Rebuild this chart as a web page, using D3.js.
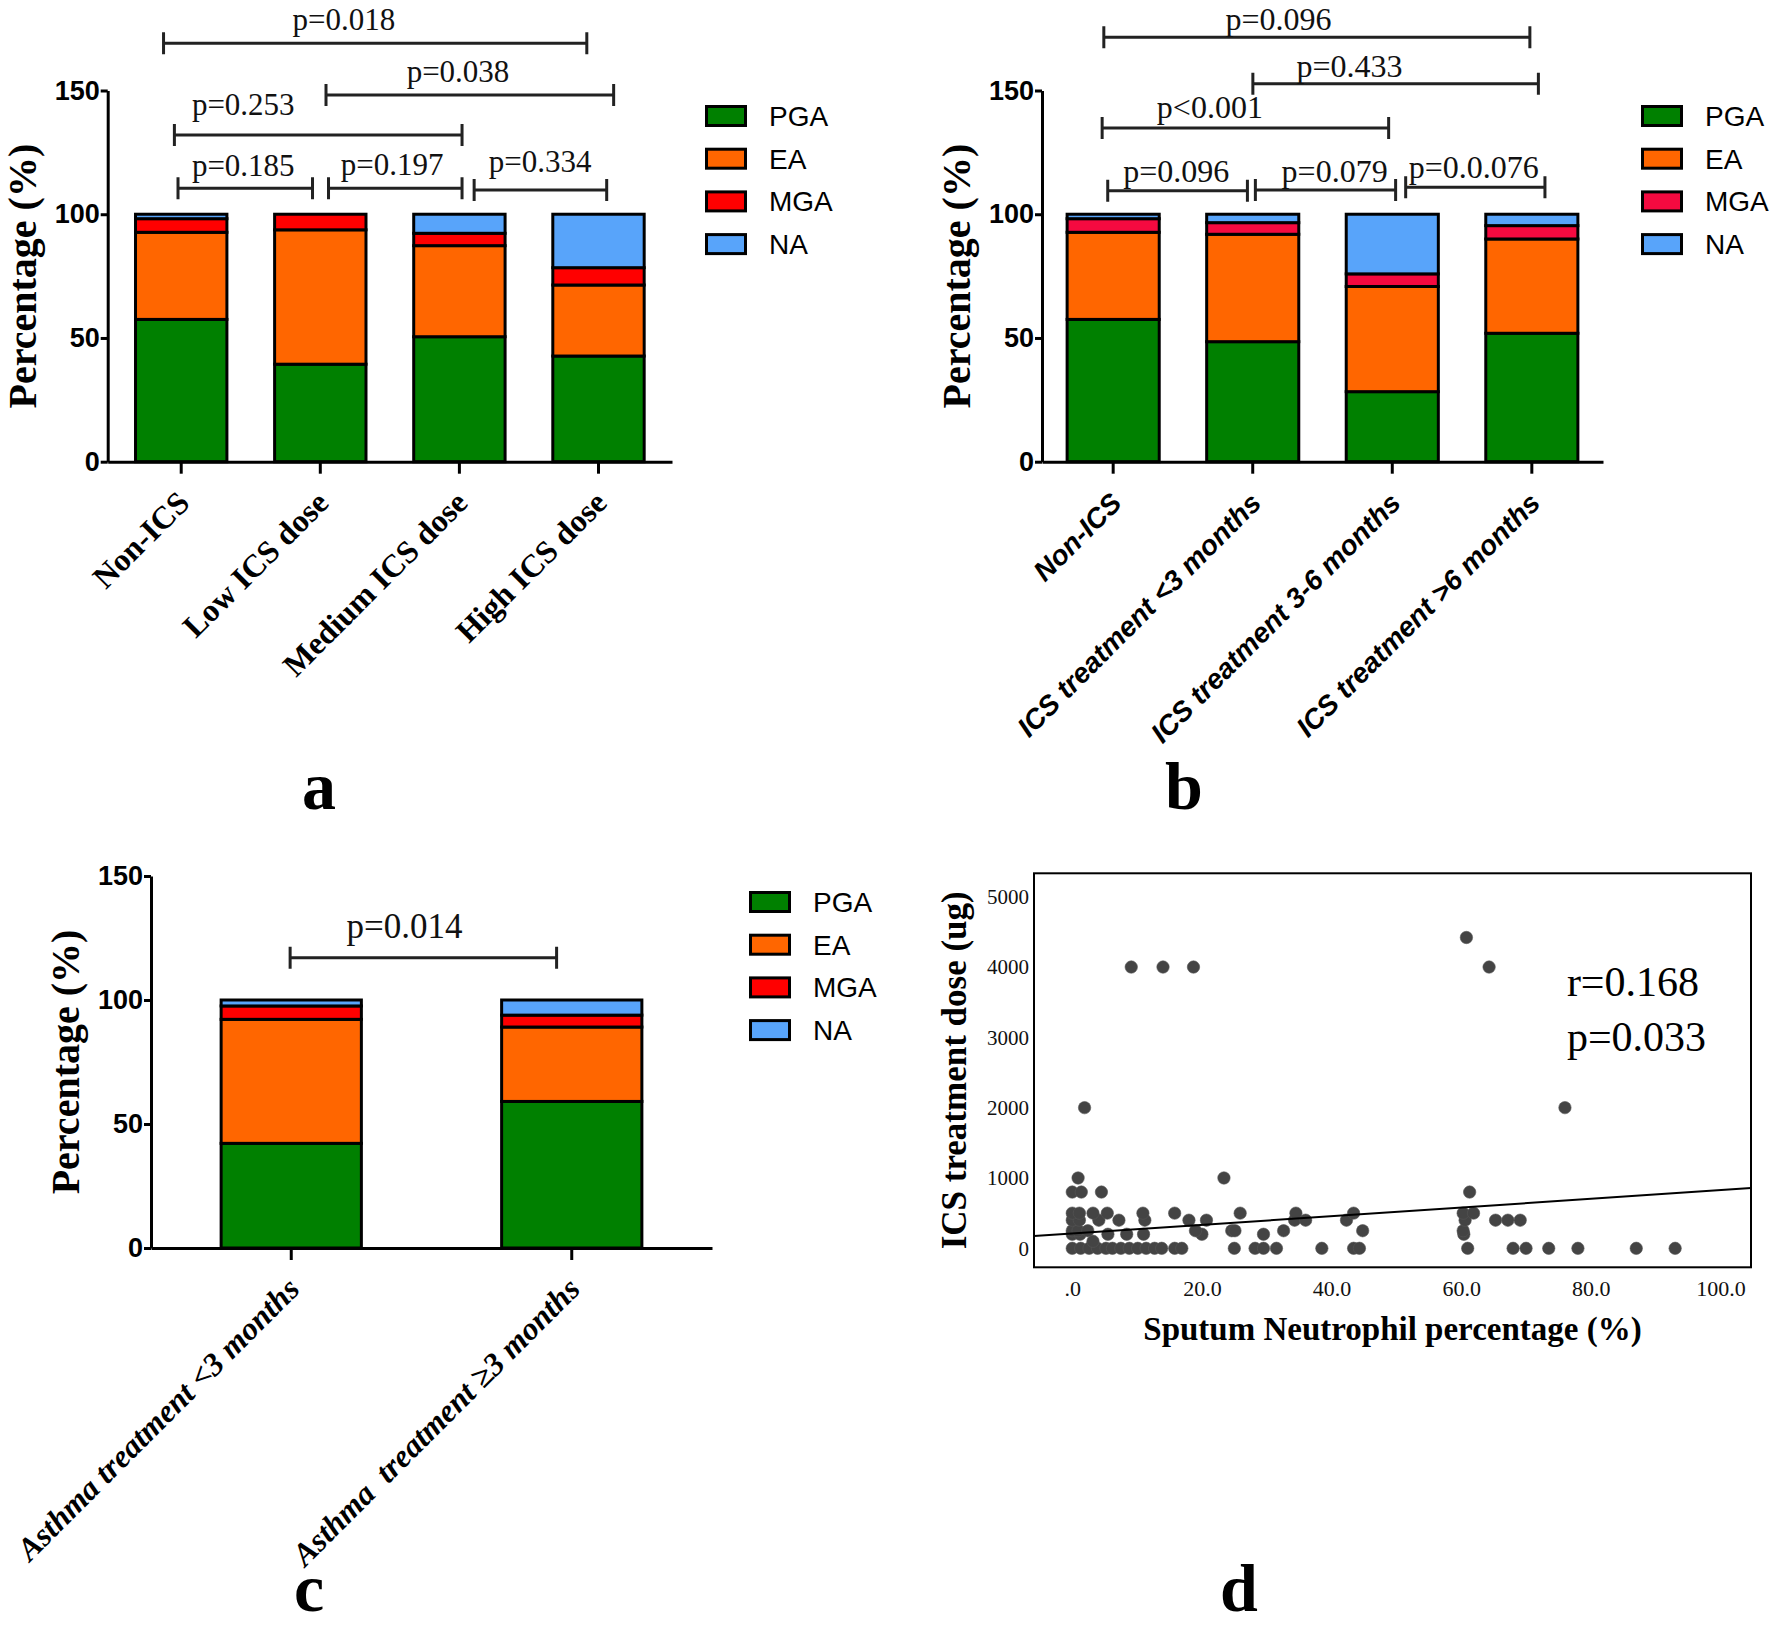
<!DOCTYPE html>
<html>
<head>
<meta charset="utf-8">
<script src="https://cdn.jsdelivr.net/npm/d3@7"></script>
<style>
  body { margin: 0; background: #fff; }
  svg { display: block; }
</style>
</head>
<body>
<svg id="fig" width="1770" height="1626"></svg>
<script>
var stackKeys = ['PGA', 'EA', 'MGA', 'NA'];

// panel a: ICS dose groups (%)
var doseGroups = ['Non-ICS', 'Low ICS dose', 'Medium ICS dose', 'High ICS dose'];
var dosePGA = [57.5, 39.4, 50.5, 42.7];
var doseEA  = [35.2, 54.3, 36.8, 28.7];
var doseMGA = [5.5, 6.3, 5.0, 7.0];
var doseNA  = [1.8, 0, 7.7, 21.6];
var doseTests = [
  { p: 'p=0.018', from: -0.127, to: 2.916, level: 169.1, tx: 1.17, ty: 174.4 },
  { p: 'p=0.038', from: 1.041, to: 3.109, level: 148.2, tx: 1.99, ty: 153.6 },
  { p: 'p=0.253', from: -0.049, to: 2.019, level: 132, tx: 0.446, ty: 140.1 },
  { p: 'p=0.185', from: -0.023, to: 0.944, level: 110.5, tx: 0.446, ty: 115.4 },
  { p: 'p=0.197', from: 1.059, to: 2.019, level: 110.5, tx: 1.516, ty: 116 },
  { p: 'p=0.334', from: 2.106, to: 3.059, level: 109.8, tx: 2.58, ty: 117.2 }
];

// panel b: ICS treatment duration (%)
var timeGroups = ['Non-ICS', 'ICS treatment <3 months', 'ICS treatment 3-6 months', 'ICS treatment >6 months'];
var timePGA = [57.5, 48.5, 28.3, 51.9];
var timeEA  = [35.2, 43.4, 42.5, 38.1];
var timeMGA = [5.5, 4.7, 5.1, 5.4];
var timeNA  = [1.8, 3.4, 24.1, 4.6];
var timeTests = [
  { p: 'p=0.096', from: -0.067, to: 2.986, level: 171.5, tx: 1.184, ty: 174.6 },
  { p: 'p=0.433', from: 1.001, to: 3.047, level: 152.7, tx: 1.694, ty: 155.6 },
  { p: 'p<0.001', from: -0.079, to: 1.974, level: 134.8, tx: 0.693, ty: 138.8 },
  { p: 'p=0.096', from: -0.039, to: 0.962, level: 109.5, tx: 0.452, ty: 113.2 },
  { p: 'p=0.079', from: 1.019, to: 2.024, level: 109.8, tx: 1.587, ty: 113.2 },
  { p: 'p=0.0.076', from: 2.096, to: 3.094, level: 110.9, tx: 2.584, ty: 114.5 }
];

// panel c: asthma treatment duration (%)
var asthmaGroups = ['Asthma treatment <3 months', 'Asthma  treatment \u22653 months'];
var asthmaPGA = [42.2, 59.1];
var asthmaEA  = [50.0, 30.0];
var asthmaMGA = [5.4, 4.8];
var asthmaNA  = [2.4, 6.1];
var asthmaTests = [
  { p: 'p=0.014', from: -0.004, to: 0.946, level: 117, tx: 0.404, ty: 125 }
];

var pctTicks = [0, 50, 100, 150];

// panel d: sputum neutrophil % vs ICS dose (ug)
var neutrophilPct = [
  0, 1.3, 2.6, 3.9, 5.2, 6.2, 7.5, 8.8, 10.1, 11.4, 12.7, 13.8, 15.8, 16.9, 25, 28.2, 29.5, 31.5, 38.5, 43.4, 44.3, 61, 68, 70, 73.5, 78, 87, 93,
  3.2,
  0, 1.2, 5.5, 8.4, 11.0, 20.0, 29.5, 60.4,
  0, 0.9, 2.4, 19.0, 24.6, 25.1, 32.6, 44.8, 60.3,
  0, 1.1, 4.1, 7.2, 11.2, 18.0, 20.7, 34.3, 36.0, 42.3, 60.6, 65.3, 67.2, 69.1,
  0, 1.1, 3.2, 5.4, 10.9, 15.8, 25.9, 34.5, 43.4, 60.3, 61.9,
  0, 1.4, 4.5, 61.3,
  0.9, 23.4,
  1.9, 76.0,
  9.1, 14.0, 18.7, 64.3,
  60.8
];
var icsDose = [
  0, 0, 0, 0, 0, 0, 0, 0, 0, 0, 0, 0, 0, 0, 0, 0, 0, 0, 0, 0, 0, 0, 0, 0, 0, 0, 0, 0,
  100,
  200, 200, 200, 200, 200, 200, 200, 200,
  250, 250, 250, 250, 250, 250, 250, 250, 250,
  400, 400, 400, 400, 400, 400, 400, 400, 400, 400, 400, 400, 400, 400,
  500, 500, 500, 500, 500, 500, 500, 500, 500, 500, 500,
  800, 800, 800, 800,
  1000, 1000,
  2000, 2000,
  4000, 4000, 4000, 4000,
  4420
];
var fitIntercept = 210;
var fitSlope = 6.17;
var doseTicks = [0, 1000, 2000, 3000, 4000, 5000];
var neutroTicks = [0, 20, 40, 60, 80, 100];

var svg = d3.select('#fig');
var serif = 'Liberation Serif, Times New Roman, serif';
var sans = 'Liberation Sans, Arial, sans-serif';

function drawStack(cfg) {
  var g = svg.append('g');
  var rows = cfg.groups.map(function(name, i) {
    return { group: name, PGA: cfg.pga[i], EA: cfg.ea[i], MGA: cfg.mga[i], NA: cfg.na[i] };
  });
  var series = d3.stack().keys(stackKeys)(rows);

  var x = d3.scaleBand()
    .domain(cfg.groups)
    .range([cfg.left, cfg.right])
    .paddingInner(cfg.padIn)
    .paddingOuter(cfg.padOut);
  var y = d3.scaleLinear()
    .domain([0, 150])
    .range([cfg.bottom, cfg.top]);
  var color = d3.scaleOrdinal().domain(stackKeys).range(cfg.colors);
  var pos = function(v) { return x(cfg.groups[0]) + x.bandwidth() / 2 + v * x.step(); };

  g.selectAll('.layer')
    .data(series)
    .enter().append('g')
    .attr('class', 'layer')
    .attr('fill', function(d) { return color(d.key); })
    .selectAll('rect')
    .data(function(d) { return d; })
    .enter().append('rect')
    .attr('x', function(d) { return x(d.data.group); })
    .attr('width', x.bandwidth())
    .attr('y', function(d) { return y(d[1]); })
    .attr('height', function(d) { return y(d[0]) - y(d[1]); })
    .attr('stroke', '#000')
    .attr('stroke-width', 3);

  // x axis with rotated labels
  var xa = g.append('g')
    .attr('transform', 'translate(0,' + y(0) + ')')
    .call(d3.axisBottom(x).tickSizeInner(12).tickSizeOuter(0));
  xa.select('.domain').attr('stroke-width', 3);
  xa.selectAll('.tick line').attr('stroke-width', 3);
  xa.selectAll('.tick text')
    .attr('x', 0).attr('y', 0).attr('dy', 0)
    .attr('transform', 'translate(10,43) rotate(-45)')
    .style('text-anchor', 'end')
    .style('white-space', 'pre')
    .attr('font-family', cfg.labelFont)
    .attr('font-weight', 'bold')
    .attr('font-style', cfg.labelStyle)
    .attr('font-size', cfg.labelSize)
    .attr('fill', '#000');

  var ya = g.append('g')
    .attr('transform', 'translate(' + cfg.left + ',0)')
    .call(d3.axisLeft(y).tickValues(pctTicks).tickSizeInner(7).tickSizeOuter(0).tickPadding(1));
  ya.select('.domain').attr('stroke-width', 3);
  ya.selectAll('.tick line').attr('stroke-width', 3);
  ya.selectAll('.tick text')
    .attr('font-family', sans)
    .attr('font-weight', 'bold')
    .attr('font-size', 27)
    .attr('fill', '#000');

  g.append('text')
    .attr('transform', 'translate(' + (cfg.left - 72) + ',' + ((y(0) + y(150)) / 2) + ') rotate(-90)')
    .attr('text-anchor', 'middle')
    .attr('font-family', serif)
    .attr('font-weight', 'bold')
    .attr('font-size', 40)
    .text('Percentage (%)');

  // significance brackets
  var br = g.selectAll('.bracket')
    .data(cfg.tests)
    .enter().append('g')
    .attr('class', 'bracket');
  br.append('path')
    .attr('d', function(d) {
      var x1 = pos(d.from), x2 = pos(d.to), yy = y(d.level);
      return 'M' + x1 + ',' + (yy - 11) + 'V' + (yy + 11) +
        'M' + x1 + ',' + yy + 'H' + x2 +
        'M' + x2 + ',' + (yy - 11) + 'V' + (yy + 11);
    })
    .attr('fill', 'none')
    .attr('stroke', '#222')
    .attr('stroke-width', 3);
  br.append('text')
    .attr('x', function(d) { return pos(d.tx); })
    .attr('y', function(d) { return y(d.ty); })
    .attr('text-anchor', 'middle')
    .attr('font-family', serif)
    .attr('font-size', cfg.pSize)
    .attr('fill', '#111')
    .text(function(d) { return d.p; });

  // legend
  var lg = g.append('g')
    .attr('transform', 'translate(' + cfg.legendX + ',' + cfg.legendY + ')');
  var item = lg.selectAll('.item')
    .data(stackKeys)
    .enter().append('g')
    .attr('class', 'item')
    .attr('transform', function(d, i) { return 'translate(0,' + (i * 42.7) + ')'; });
  item.append('rect')
    .attr('x', 1.5).attr('y', 1.5)
    .attr('width', 39).attr('height', 19)
    .attr('fill', function(d) { return color(d); })
    .attr('stroke', '#000')
    .attr('stroke-width', 3);
  item.append('text')
    .attr('x', 64)
    .attr('y', 21)
    .attr('font-family', sans)
    .attr('font-size', 28)
    .text(function(d) { return d; });

  g.append('text')
    .attr('x', cfg.letterX)
    .attr('y', cfg.letterY)
    .attr('text-anchor', 'middle')
    .attr('font-family', serif)
    .attr('font-weight', 'bold')
    .attr('font-size', 68)
    .text(cfg.letter);
}

drawStack({
  groups: doseGroups, pga: dosePGA, ea: doseEA, mga: doseMGA, na: doseNA, tests: doseTests,
  colors: ['#008000', '#ff6600', '#ff0000', '#58a4fa'],
  left: 107.7, right: 672, bottom: 461.7, top: 90.5, padIn: 0.343, padOut: 0.2,
  labelFont: serif, labelStyle: 'normal', labelSize: 32, pSize: 31,
  legendX: 705, legendY: 105, letter: 'a', letterX: 319, letterY: 809
});

drawStack({
  groups: timeGroups, pga: timePGA, ea: timeEA, mga: timeMGA, na: timeNA, tests: timeTests,
  colors: ['#008000', '#ff6600', '#f50a40', '#58a4fa'],
  left: 1042, right: 1603, bottom: 461.7, top: 90.5, padIn: 0.34, padOut: 0.18,
  labelFont: sans, labelStyle: 'italic', labelSize: 28, pSize: 32,
  legendX: 1641, legendY: 105, letter: 'b', letterX: 1184, letterY: 809
});

drawStack({
  groups: asthmaGroups, pga: asthmaPGA, ea: asthmaEA, mga: asthmaMGA, na: asthmaNA, tests: asthmaTests,
  colors: ['#008000', '#ff6600', '#ff0000', '#58a4fa'],
  left: 151, right: 712, bottom: 1248, top: 876, padIn: 0.5, padOut: 0.25,
  labelFont: serif, labelStyle: 'italic', labelSize: 32, pSize: 35,
  legendX: 749, legendY: 891, letter: 'c', letterX: 309, letterY: 1611
});

// panel d scatter
(function() {
  var g = svg.append('g');
  var left = 1034, right = 1751, top = 873.3, bottom = 1267.3;
  var x = d3.scaleLinear().domain([-5.9, 104.7]).range([left, right]);
  var y = d3.scaleLinear().domain([-270, 5333]).range([bottom, top]);
  var pts = neutrophilPct.map(function(v, i) { return { n: v, dose: icsDose[i] }; });

  g.append('rect')
    .attr('x', left).attr('y', top)
    .attr('width', right - left).attr('height', bottom - top)
    .attr('fill', 'none')
    .attr('stroke', '#000')
    .attr('stroke-width', 2);

  g.selectAll('.dot')
    .data(pts)
    .enter().append('circle')
    .attr('class', 'dot')
    .attr('cx', function(d) { return x(d.n); })
    .attr('cy', function(d) { return y(d.dose); })
    .attr('r', 6.2)
    .attr('fill', '#444')
    .attr('stroke', '#555')
    .attr('stroke-width', 0.6);

  var dom = x.domain();
  g.append('line')
    .attr('x1', x(dom[0])).attr('y1', y(fitIntercept + fitSlope * dom[0]))
    .attr('x2', x(dom[1])).attr('y2', y(fitIntercept + fitSlope * dom[1]))
    .attr('stroke', '#000')
    .attr('stroke-width', 2);

  var xa = g.append('g')
    .attr('transform', 'translate(0,' + bottom + ')')
    .call(d3.axisBottom(x).tickValues(neutroTicks).tickSize(0).tickPadding(13)
      .tickFormat(function(d) { return d === 0 ? '.0' : d.toFixed(1); }));
  xa.select('.domain').remove();
  xa.selectAll('text').attr('font-family', serif).attr('font-size', 22).attr('fill', '#111');

  var ya = g.append('g')
    .attr('transform', 'translate(' + left + ',0)')
    .call(d3.axisLeft(y).tickValues(doseTicks).tickSize(0).tickPadding(5)
      .tickFormat(d3.format('d')));
  ya.select('.domain').remove();
  ya.selectAll('text').attr('font-family', serif).attr('font-size', 21).attr('fill', '#111');

  g.append('text')
    .attr('x', (left + right) / 2)
    .attr('y', 1340)
    .attr('text-anchor', 'middle')
    .attr('font-family', serif)
    .attr('font-weight', 'bold')
    .attr('font-size', 33)
    .text('Sputum Neutrophil percentage (%)');

  g.append('text')
    .attr('transform', 'translate(966,' + ((top + bottom) / 2) + ') rotate(-90)')
    .attr('text-anchor', 'middle')
    .attr('font-family', serif)
    .attr('font-weight', 'bold')
    .attr('font-size', 35)
    .text('ICS treatment dose (ug)');

  g.append('text')
    .attr('x', x(76.3)).attr('y', y(3590))
    .attr('font-family', serif)
    .attr('font-size', 42)
    .text('r=0.168');
  g.append('text')
    .attr('x', x(76.3)).attr('y', y(2800))
    .attr('font-family', serif)
    .attr('font-size', 42)
    .text('p=0.033');

  g.append('text')
    .attr('x', 1239)
    .attr('y', 1611)
    .attr('text-anchor', 'middle')
    .attr('font-family', serif)
    .attr('font-weight', 'bold')
    .attr('font-size', 68)
    .text('d');
})();
</script>
</body>
</html>
